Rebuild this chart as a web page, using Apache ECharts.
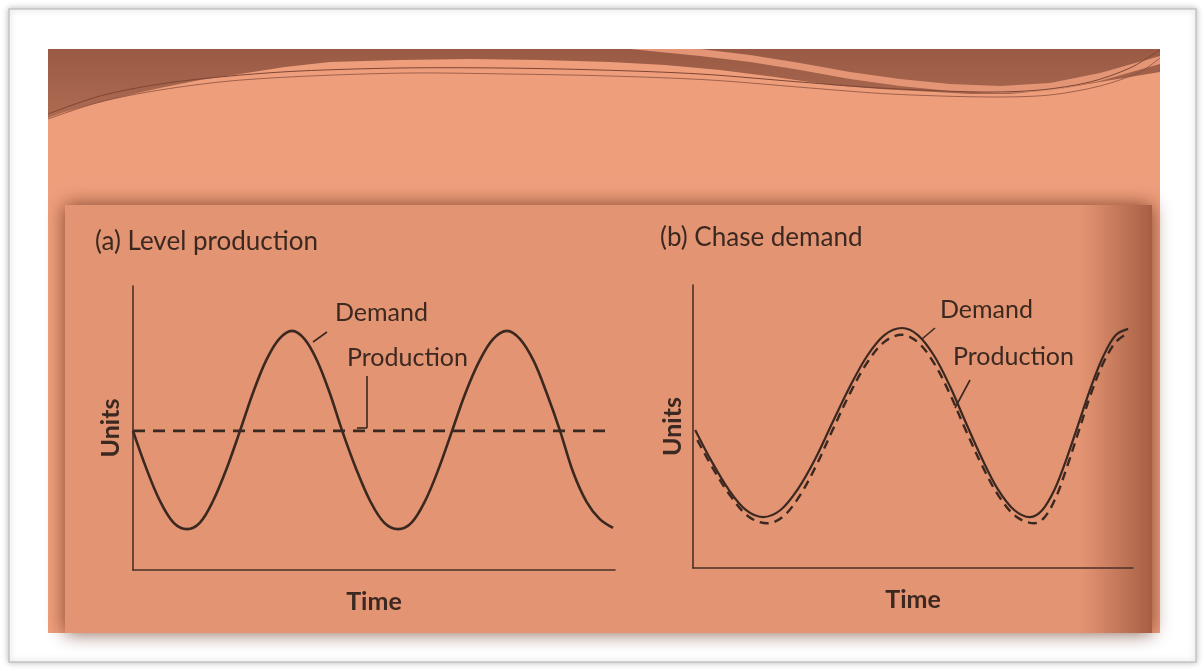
<!DOCTYPE html>
<html>
<head>
<meta charset="utf-8">
<script src="https://cdn.jsdelivr.net/npm/echarts@6/dist/echarts.min.js"></script>
<style>
html,body{margin:0;padding:0;background:#fff;}
#chart{width:1204px;height:671px;}
</style>
</head>
<body>
<div id="chart"></div>
<script>
// ---- Panel (a) Level production ----
const levelTime = [0, 2.8, 5.6, 8.4, 11.2, 13.9, 16.6, 19.4, 22.2, 24.9, 27.6, 30.3, 33.0, 35.6, 38.2, 40.8, 43.4, 46.3, 49.2, 52.1, 55.0, 57.8, 60.6, 63.4, 66.2, 69.0, 71.9, 74.7, 77.6, 80.3, 83.1, 85.8, 88.6, 91.3, 94.1, 96.8, 99.6];
const levelDemand = [49, 35.6, 24.3, 16.7, 14.4, 16.7, 24.3, 35.6, 49, 62.4, 73.7, 81.3, 84.2, 81.3, 73.7, 62.4, 49, 35.6, 24.3, 16.7, 14.4, 16.7, 24.3, 35.6, 49, 62.4, 73.7, 81.3, 84.2, 81.3, 73.7, 62.4, 49, 34.5, 24.0, 18.0, 14.8];
const levelProdTime = [0, 98.5];
const levelProduction = [49, 49];

// ---- Panel (b) Chase demand ----
const chaseTime = [0.5, 4.3, 8.2, 12.0, 15.9, 19.9, 23.8, 27.8, 31.7, 35.7, 39.6, 43.5, 47.5, 51.1, 54.8, 58.4, 62.0, 65.7, 69.3, 73.0, 76.6, 79.4, 82.2, 84.9, 87.7, 90.5, 93.3, 96.1, 98.9];
const chaseDemand = [48.8, 37.5, 27.5, 20.5, 18.0, 20.5, 27.8, 38.6, 51.4, 64.2, 75.0, 82.3, 84.8, 82.3, 75.0, 64.2, 51.4, 38.6, 27.8, 20.5, 18.0, 20.5, 27.8, 38.6, 51.4, 64.2, 75.0, 82.3, 84.5];
const chaseProdTime = [1.0, 4.6, 8.6, 12.6, 16.9, 20.5, 24.2, 28.0, 31.8, 35.7, 39.6, 43.5, 47.4, 51.0, 54.7, 58.3, 61.9, 65.7, 69.5, 73.5, 77.6, 80.0, 82.6, 85.1, 87.8, 90.5, 93.3, 96.1, 98.6];
const chaseProduction = [45.2, 35.0, 25.3, 18.2, 15.8, 18.2, 25.4, 36.2, 49.0, 61.8, 72.6, 79.9, 82.4, 79.9, 72.6, 61.8, 49.0, 36.2, 25.4, 18.1, 15.8, 18.1, 25.4, 36.2, 49.0, 61.8, 72.6, 79.9, 82.8];

// ---- Text ----
const titleA = '(a) Level production';
const titleB = '(b) Chase demand';
const yName = 'Units';
const xName = 'Time';
const demandLabel = 'Demand';
const productionLabel = 'Production';

const ink = '#3b2820';
const FONT = 'Lato, "Open Sans", sans-serif';

function pairs(xs, ys) { return xs.map((x, i) => [x, ys[i]]); }

const chart = echarts.init(document.getElementById('chart'), null, {renderer: 'canvas'});

const axisLine = {show: true, lineStyle: {color: '#4a3126', width: 1.6}};
function xAx(idx) {
  return {type: 'value', gridIndex: idx, min: 0, max: 100, axisLine: axisLine,
    axisTick: {show: false}, axisLabel: {show: false}, splitLine: {show: false},
    name: xName, nameLocation: 'middle', nameGap: 19,
    nameTextStyle: {fontFamily: FONT, fontWeight: 'bold', fontSize: 25, color: ink}};
}
function yAx(idx, gap) {
  return {type: 'value', gridIndex: idx, min: 0, max: 100, axisLine: axisLine,
    axisTick: {show: false}, axisLabel: {show: false}, splitLine: {show: false},
    name: yName, nameLocation: 'middle', nameGap: gap, nameRotate: 90,
    nameTextStyle: {fontFamily: FONT, fontWeight: 'bold', fontSize: 25, color: ink}};
}

const txt = (x, y, s, size) => ({type: 'text', x: x, y: y, z: 5,
  style: {text: s, fill: ink, font: (size || 25) + 'px ' + FONT, textVerticalAlign: 'middle'}});
const ln = (x1, y1, x2, y2) => ({type: 'line', z: 5, shape: {x1: x1, y1: y1, x2: x2, y2: y2},
  style: {stroke: ink, lineWidth: 1.6}});

const darkBand = [[48,49],[1160,49],[1160,72],[1130,77],[1100,82],[1060,89],[1010,94],[970,94],[935,92],[880,89],[830,85],[775,77],[720,70],[665,65],[610,62],[540,60],[470,59],[400,60],[330,62],[285,67],[240,74],[200,80],[160,88],[125,96],[90,105],[65,112],[48,118]];
const ribbon = [[630,49],[700,49],[750,55],[800,63],[850,72],[900,79],[950,84],[1000,86],[1050,83],[1100,73],[1160,56],[1160,64],[1100,81],[1050,91],[1000,93],[950,91],[900,86],[850,79],[800,70],[750,62],[700,56]];
const thread1 = [[48,114],[100,96],[160,84],[230,76],[300,71],[400,68],[500,68],[600,70],[700,74],[800,82],[880,88],[980,92],[1040,90],[1090,82],[1130,68],[1160,50]];
const thread2 = [[48,119],[100,102],[160,90],[230,81],[310,76],[410,73],[510,74],[610,76],[710,80],[810,88],[890,94],[990,97],[1050,95],[1100,86],[1140,72],[1160,58]];

const option = {
  animation: false,
  backgroundColor: '#ffffff',
  grid: [
    {left: 133, top: 286, width: 482, height: 284},
    {left: 693, top: 285, width: 440, height: 283}
  ],
  xAxis: [xAx(0), xAx(1)],
  yAxis: [yAx(0, 10), yAx(1, 8)],
  series: [
    {type: 'line', xAxisIndex: 0, yAxisIndex: 0, data: pairs(levelTime, levelDemand), smooth: 0.35,
      showSymbol: false, lineStyle: {color: ink, width: 2.6}},
    {type: 'line', xAxisIndex: 0, yAxisIndex: 0, data: pairs(levelProdTime, levelProduction),
      showSymbol: false, lineStyle: {color: ink, width: 2.8, type: [12, 8]}},
    {type: 'line', xAxisIndex: 1, yAxisIndex: 1, data: pairs(chaseTime, chaseDemand), smooth: 0.35,
      showSymbol: false, lineStyle: {color: ink, width: 2.2}},
    {type: 'line', xAxisIndex: 1, yAxisIndex: 1, data: pairs(chaseProdTime, chaseProduction), smooth: 0.35,
      showSymbol: false, lineStyle: {color: ink, width: 2.4, type: [9, 6]}}
  ],
  graphic: [
    {type: 'rect', z: -30, shape: {x: 9, y: 9, width: 1187, height: 653},
      style: {fill: '#ffffff', stroke: '#c4c4c4', lineWidth: 1.5, shadowBlur: 6, shadowColor: 'rgba(0,0,0,0.25)'}},
    {type: 'rect', z: -29, shape: {x: 48, y: 49, width: 1112, height: 584}, style: {fill: '#EE9E7B'}},
    {type: 'polygon', z: -28, shape: {points: darkBand},
      style: {fill: new echarts.graphic.LinearGradient(0, 0, 0, 1, [{offset: 0, color: '#995A44'}, {offset: 1, color: '#AE6B52'}])}},
    {type: 'polygon', z: -27, shape: {points: ribbon}, style: {fill: '#E39575'}},
    {type: 'polyline', z: -27, shape: {points: thread1, smooth: 0.3}, style: {fill: null, stroke: '#7e4636', lineWidth: 1}},
    {type: 'polyline', z: -27, shape: {points: thread2, smooth: 0.3}, style: {fill: null, stroke: '#8a5040', lineWidth: 0.8}},
    {type: 'rect', z: -26, shape: {x: 65, y: 205, width: 1087, height: 428},
      style: {fill: '#E39472', shadowBlur: 18, shadowColor: 'rgba(90,35,15,0.75)'}},
    {type: 'rect', z: -25, shape: {x: 1080, y: 205, width: 72, height: 428},
      style: {fill: new echarts.graphic.LinearGradient(0, 0, 1, 0, [{offset: 0, color: 'rgba(150,80,55,0)'}, {offset: 1, color: 'rgba(140,70,48,0.7)'}])}},
    txt(95, 242, titleA, 26),
    txt(660, 238, titleB, 26),
    txt(335, 313, demandLabel),
    ln(327, 332, 313, 342),
    txt(347, 358, productionLabel),
    ln(367, 376, 367, 428),
    ln(367, 428, 357, 428),
    txt(940, 310, demandLabel),
    ln(935, 328, 922, 339),
    txt(953, 357, productionLabel),
    ln(970, 380, 955, 408)
  ]
};
chart.setOption(option);
</script>
</body>
</html>
